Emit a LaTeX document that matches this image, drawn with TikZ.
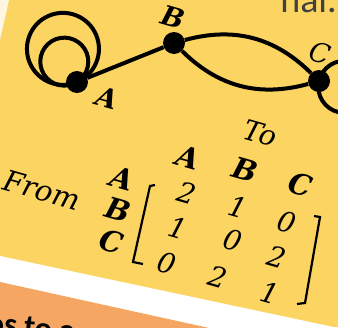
\documentclass[tikz,border=0pt]{standalone}
\usepackage{fontspec}
\newfontfamily\slidefont{Carlito}
\newfontfamily\matfont{DejaVu Serif}
\definecolor{slideyellow}{RGB}{252,212,98}
\definecolor{slideorange}{RGB}{244,166,98}
\tikzset{
  dot/.style={circle, fill=black, inner sep=0pt, minimum size=22pt},
  walk/.style={line width=4pt},
  lbl/.style={font=\matfont\fontsize{27}{30}\selectfont\bfseries\itshape, rotate=-16, inner sep=0pt},
  entry/.style={font=\matfont\fontsize{28}{30}\selectfont\itshape, rotate=-16, inner sep=0pt},
  head/.style={font=\matfont\fontsize{29}{30}\selectfont\bfseries\itshape, rotate=-16, inner sep=0pt},
}
\begin{document}
\begin{tikzpicture}[x=1pt, y=1pt]
  \useasboundingbox (0,0) rectangle (350,-327);
  \clip (0,0) rectangle (350,-327);

  % slide background
  \fill[slideyellow] (0,0) rectangle (350,-327);
  \fill[white!80!slideyellow] (0,0) -- (9,0) -- (0,-40) -- cycle;
  \fill[white] (0,-256) -- (350,-330.5) -- (350,-340) -- (0,-340) -- cycle;
  \fill[slideorange] (0,-282) -- (220,-330.4) -- (0,-340) -- cycle;

  % cut-off slide text
  \node[anchor=base east, font=\slidefont\fontsize{38}{40}\selectfont, text=black!75, inner sep=0pt] (title) at (337,-12) {nal.};
  \node[anchor=base west, font=\slidefont\bfseries\fontsize{32}{36}\selectfont, rotate=-6, inner sep=0pt] (footer) at (-14,-333) {os to a};

  % graph
  \node[dot] (A) at (77,-82) {};
  \node[dot] (B) at (174,-43) {};
  \node[dot] (C) at (319,-81) {};
  \draw[walk] (A) -- (B);
  \draw[walk] (B) to[bend left=30] (C);
  \draw[walk] (B) to[bend right=30] (C);
  \draw[walk] (A.center) arc[start angle=-67, delta angle=360, radius=36];
  \draw[walk] (A.center) arc[start angle=-58, delta angle=360, radius=24];
  \draw[walk] (C.center) arc[start angle=167, delta angle=360, radius=26];
  \node[lbl] (labA) at (107,-98) {A};
  \node[lbl] (labB) at (173,-17) {B};
  \node[lbl, font=\matfont\fontsize{27}{30}\selectfont\itshape] (labC) at (320,-53) {C};

  % adjacency matrix
  \node[entry] (to) at (260,-133) {To};
  \node[entry, font=\matfont\fontsize{29}{30}\selectfont\itshape] (from) at (42,-190) {From};
  \node[head] (colA) at (188,-157) {A};
  \node[head] (colB) at (245,-170) {B};
  \node[head] (colC) at (300,-185) {C};
  \node[head] (rowA) at (122,-178) {A};
  \node[head] (rowB) at (118,-210) {B};
  \node[head] (rowC) at (112,-242) {C};
  \node[entry] (m11) at (187,-193) {2};
  \node[entry] (m12) at (238,-207) {1};
  \node[entry] (m13) at (287,-222) {0};
  \node[entry] (m21) at (178,-228) {1};
  \node[entry] (m22) at (233,-240) {0};
  \node[entry] (m23) at (277,-257) {2};
  \node[entry] (m31) at (167,-263) {0};
  \node[entry] (m32) at (218,-277) {2};
  \node[entry] (m33) at (270,-293) {1};
  \draw[line width=2.2pt] (155,-185) -- (150,-186) -- (133,-262) -- (143,-264);
  \draw[line width=2.2pt] (314,-216) -- (320,-217) -- (305,-303) -- (297,-304);

  % page edge
  \fill[white] (338,0) rectangle (350,-327);
\end{tikzpicture}
\end{document}
